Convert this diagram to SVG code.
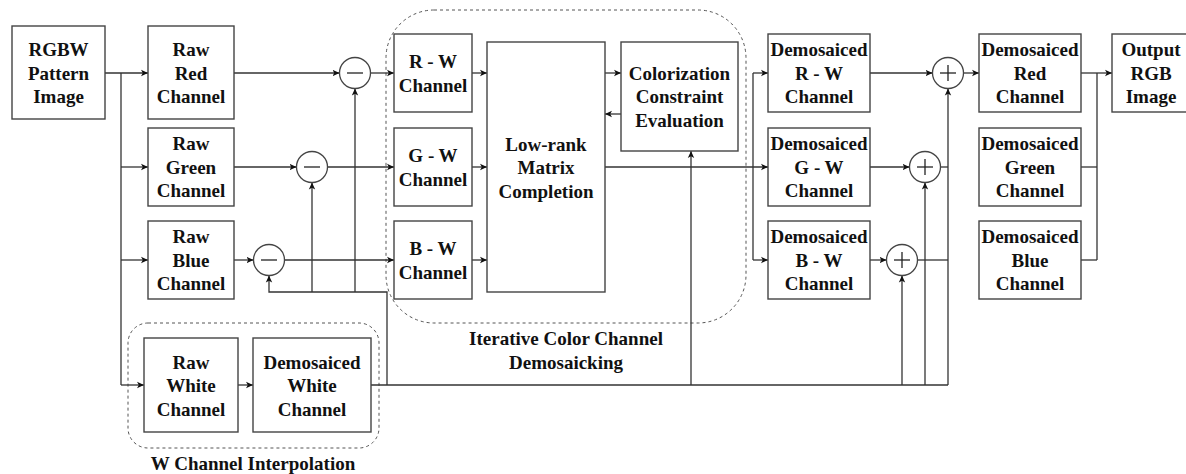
<svg xmlns="http://www.w3.org/2000/svg" width="1186" height="474" viewBox="0 0 1186 474">
<style>
.box{fill:#fff;stroke:#444;stroke-width:1.4}
.grp{fill:none;stroke:#555;stroke-width:1;stroke-dasharray:3,3}
.ln{fill:none;stroke:#333;stroke-width:1.3}
.op{fill:#fff;stroke:#444;stroke-width:1.3}
.sg{stroke:#222;stroke-width:1.3}
text{font-family:'Liberation Serif','Times New Roman','DejaVu Serif',serif;font-weight:700;font-size:19px;fill:#111;text-anchor:middle}
</style>
<defs>
<marker id="ah" markerWidth="8" markerHeight="8" refX="7" refY="4" orient="auto" markerUnits="userSpaceOnUse">
<path d="M0,0.8 L7,4 L0,7.2 L1.8,4 z" fill="#111"/>
</marker>
</defs>
<rect width="1186" height="474" fill="#fff"/>
<g id="group-iterative">
<rect class="grp" x="386" y="10" width="360" height="313" rx="48" ry="48"/>
<text x="566" y="345">Iterative Color Channel</text>
<text x="566" y="369">Demosaicking</text>
</g>
<g id="group-w">
<rect class="grp" x="128" y="323" width="251" height="125" rx="20" ry="20"/>
<text x="253" y="470">W Channel Interpolation</text>
</g>
<g id="connectors">
<path class="ln" d="M105,73 H148" marker-end="url(#ah)"/>
<path class="ln" d="M121,73 V385"/>
<path class="ln" d="M121,167 H148" marker-end="url(#ah)"/>
<path class="ln" d="M121,260 H148" marker-end="url(#ah)"/>
<path class="ln" d="M121,385 H144" marker-end="url(#ah)"/>
<path class="ln" d="M238,385 H253" marker-end="url(#ah)"/>
<path class="ln" d="M234,73 H339.5" marker-end="url(#ah)"/>
<path class="ln" d="M370.5,73 H394" marker-end="url(#ah)"/>
<path class="ln" d="M234,167 H296.5" marker-end="url(#ah)"/>
<path class="ln" d="M327.5,167 H394" marker-end="url(#ah)"/>
<path class="ln" d="M234,260 H253.5" marker-end="url(#ah)"/>
<path class="ln" d="M284.5,260 H394" marker-end="url(#ah)"/>
<path class="ln" d="M371,385 H948"/>
<path class="ln" d="M387,385 V292 H269 V275.5" marker-end="url(#ah)"/>
<path class="ln" d="M312,292 V182.5" marker-end="url(#ah)"/>
<path class="ln" d="M355,292 V88.5" marker-end="url(#ah)"/>
<path class="ln" d="M691,385 V151" marker-end="url(#ah)"/>
<path class="ln" d="M902,385 V275.5" marker-end="url(#ah)"/>
<path class="ln" d="M925,385 V182.5" marker-end="url(#ah)"/>
<path class="ln" d="M948,385 V88.5" marker-end="url(#ah)"/>
<path class="ln" d="M472,73 H487" marker-end="url(#ah)"/>
<path class="ln" d="M472,167 H487" marker-end="url(#ah)"/>
<path class="ln" d="M472,260 H487" marker-end="url(#ah)"/>
<path class="ln" d="M605,73 H621" marker-end="url(#ah)"/>
<path class="ln" d="M621,114 H605" marker-end="url(#ah)"/>
<path class="ln" d="M605,167 H768" marker-end="url(#ah)"/>
<path class="ln" d="M753,73 V260"/>
<path class="ln" d="M753,73 H768" marker-end="url(#ah)"/>
<path class="ln" d="M753,260 H768" marker-end="url(#ah)"/>
<path class="ln" d="M870,73 H932.5" marker-end="url(#ah)"/>
<path class="ln" d="M870,167 H909.5" marker-end="url(#ah)"/>
<path class="ln" d="M870,260 H886.5" marker-end="url(#ah)"/>
<path class="ln" d="M940.5,167 H948"/>
<path class="ln" d="M917.5,260 H948"/>
<path class="ln" d="M963.5,73 H979" marker-end="url(#ah)"/>
<path class="ln" d="M1081,73 H1112" marker-end="url(#ah)"/>
<path class="ln" d="M1097,73 V260"/>
<path class="ln" d="M1081,167 H1097"/>
<path class="ln" d="M1081,260 H1097"/>
</g>
<g id="rgbw"><rect class="box" x="12" y="26" width="93" height="93"/><text x="58.5" y="56">RGBW</text><text x="58.5" y="79.5">Pattern</text><text x="58.5" y="103">Image</text></g>
<g id="raw-red"><rect class="box" x="148" y="26" width="86" height="93"/><text x="191" y="56">Raw</text><text x="191" y="79.5">Red</text><text x="191" y="103">Channel</text></g>
<g id="raw-green"><rect class="box" x="148" y="128" width="86" height="78"/><text x="191" y="150">Raw</text><text x="191" y="173.5">Green</text><text x="191" y="197">Channel</text></g>
<g id="raw-blue"><rect class="box" x="148" y="221" width="86" height="78"/><text x="191" y="243">Raw</text><text x="191" y="266.5">Blue</text><text x="191" y="290">Channel</text></g>
<g id="raw-white"><rect class="box" x="144" y="338" width="94" height="94"/><text x="191" y="368.5">Raw</text><text x="191" y="392">White</text><text x="191" y="415.5">Channel</text></g>
<g id="dem-white"><rect class="box" x="253" y="338" width="118" height="94"/><text x="312" y="368.5">Demosaiced</text><text x="312" y="392">White</text><text x="312" y="415.5">Channel</text></g>
<g id="sub-r"><circle class="op" cx="355" cy="73" r="15.5"/><line class="sg" x1="347" y1="73" x2="363" y2="73"/></g>
<g id="sub-g"><circle class="op" cx="312" cy="167" r="15.5"/><line class="sg" x1="304" y1="167" x2="320" y2="167"/></g>
<g id="sub-b"><circle class="op" cx="269" cy="260" r="15.5"/><line class="sg" x1="261" y1="260" x2="277" y2="260"/></g>
<g id="rw"><rect class="box" x="394" y="34" width="78" height="78"/><text x="433" y="68">R - W</text><text x="433" y="91.5">Channel</text></g>
<g id="gw"><rect class="box" x="394" y="128" width="78" height="78"/><text x="433" y="162">G - W</text><text x="433" y="185.5">Channel</text></g>
<g id="bw"><rect class="box" x="394" y="221" width="78" height="78"/><text x="433" y="255">B - W</text><text x="433" y="278.5">Channel</text></g>
<g id="lowrank"><rect class="box" x="487" y="42" width="118" height="250"/><text x="546" y="150.5">Low-rank</text><text x="546" y="174">Matrix</text><text x="546" y="197.5">Completion</text></g>
<g id="colorization"><rect class="box" x="621" y="42" width="117" height="109"/><text x="679.5" y="79.5">Colorization</text><text x="679.5" y="103">Constraint</text><text x="679.5" y="126.5">Evaluation</text></g>
<g id="dem-rw"><rect class="box" x="768" y="34" width="102" height="78"/><text x="819" y="56">Demosaiced</text><text x="819" y="79.5">R - W</text><text x="819" y="103">Channel</text></g>
<g id="dem-gw"><rect class="box" x="768" y="128" width="102" height="78"/><text x="819" y="150">Demosaiced</text><text x="819" y="173.5">G - W</text><text x="819" y="197">Channel</text></g>
<g id="dem-bw"><rect class="box" x="768" y="221" width="102" height="78"/><text x="819" y="243">Demosaiced</text><text x="819" y="266.5">B - W</text><text x="819" y="290">Channel</text></g>
<g id="add-r"><circle class="op" cx="948" cy="73" r="15.5"/><line class="sg" x1="940" y1="73" x2="956" y2="73"/><line class="sg" x1="948" y1="65" x2="948" y2="81"/></g>
<g id="add-g"><circle class="op" cx="925" cy="167" r="15.5"/><line class="sg" x1="917" y1="167" x2="933" y2="167"/><line class="sg" x1="925" y1="159" x2="925" y2="175"/></g>
<g id="add-b"><circle class="op" cx="902" cy="260" r="15.5"/><line class="sg" x1="894" y1="260" x2="910" y2="260"/><line class="sg" x1="902" y1="252" x2="902" y2="268"/></g>
<g id="dem-red"><rect class="box" x="979" y="34" width="102" height="78"/><text x="1030" y="56">Demosaiced</text><text x="1030" y="79.5">Red</text><text x="1030" y="103">Channel</text></g>
<g id="dem-green"><rect class="box" x="979" y="128" width="102" height="78"/><text x="1030" y="150">Demosaiced</text><text x="1030" y="173.5">Green</text><text x="1030" y="197">Channel</text></g>
<g id="dem-blue"><rect class="box" x="979" y="221" width="102" height="78"/><text x="1030" y="243">Demosaiced</text><text x="1030" y="266.5">Blue</text><text x="1030" y="290">Channel</text></g>
<g id="output"><rect class="box" x="1112" y="34" width="80" height="78"/><text x="1151" y="56">Output</text><text x="1151" y="79.5">RGB</text><text x="1151" y="103">Image</text></g>
</svg>
